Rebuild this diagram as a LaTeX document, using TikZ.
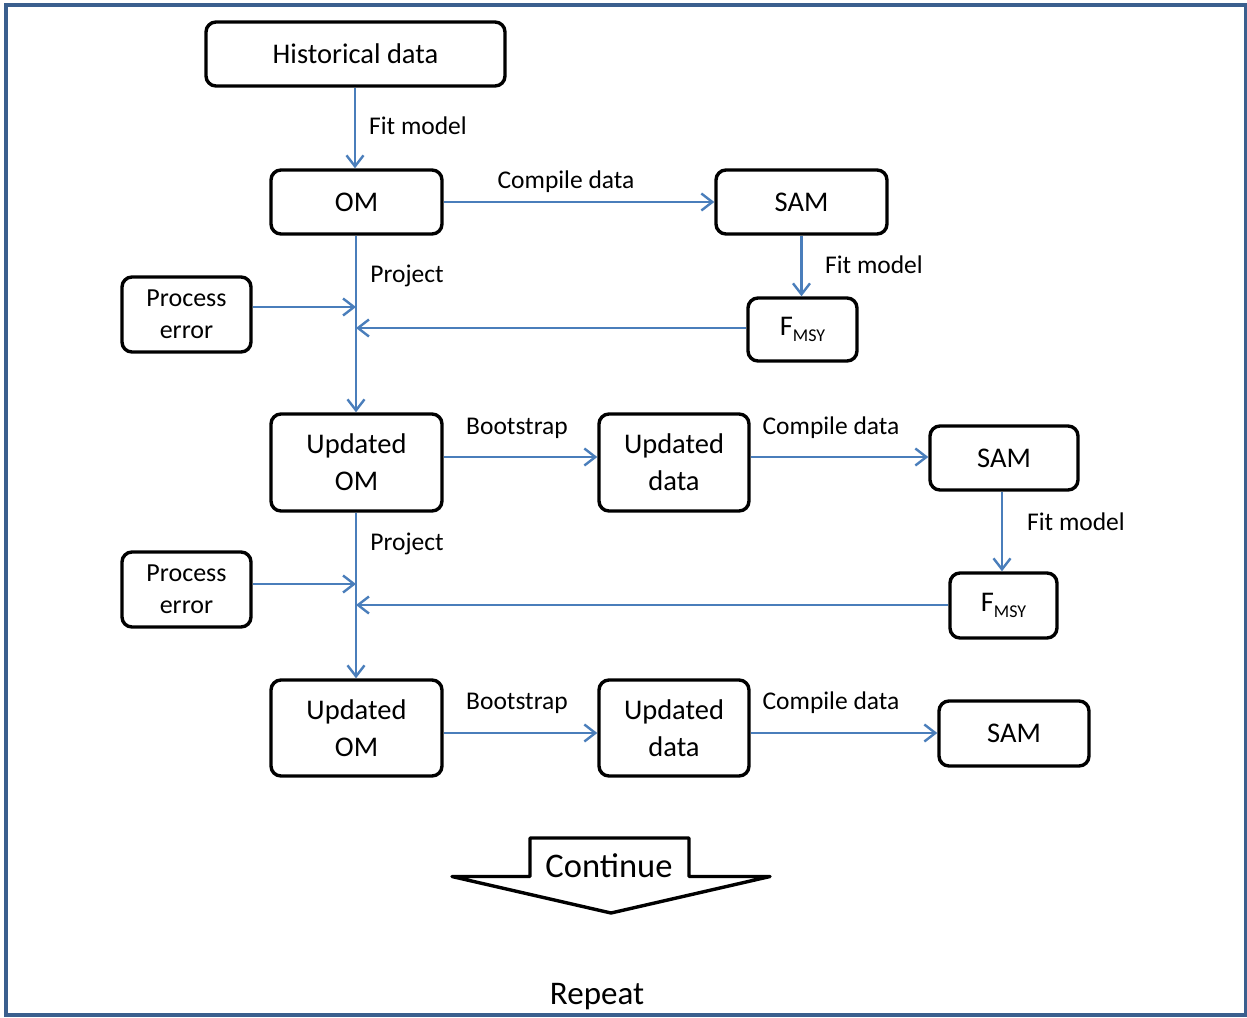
\documentclass[tikz,border=0pt]{standalone}
\usepackage{fontspec}
\setmainfont{Carlito}
\usetikzlibrary{arrows.meta}
\definecolor{conblue}{HTML}{4A7EBB}
\definecolor{framec}{HTML}{3A5F8E}
\tikzset{
  box/.style={draw=black, line width=3.4pt, rounded corners=10pt, inner sep=0pt, align=center, font=\fontsize{28.5}{37}\selectfont},
  pebox/.style={box, font=\fontsize{26}{32}\selectfont},
  conn/.style={draw=conblue, line width=2.4pt, -{Straight Barb[length=11pt,width=17pt,line width=2.4pt]}},
  lbl/.style={anchor=base, inner sep=0pt, font=\fontsize{25.5}{30}\selectfont}
}
\begin{document}
\begin{tikzpicture}[x=1pt,y=-1pt]
\useasboundingbox (0,0) rectangle (1247,1017);
\draw[framec, line width=3.6pt] (6,5) rectangle (1245.5,1015);

\node[box, minimum width=299pt, minimum height=64pt] (hist) at (355.5,54) {Historical data};
\node[box, minimum width=171pt, minimum height=64pt] (om) at (356.5,202) {OM};
\node[box, minimum width=171pt, minimum height=64pt] (sam1) at (801.5,202) {SAM};
\node[box, minimum width=109pt, minimum height=63pt] (f1) at (802.5,329.5) {F\raisebox{-6pt}{\fontsize{18}{20}\selectfont MSY}};
\node[pebox, minimum width=129pt, minimum height=75pt] (pe1) at (186.5,314.5) {Process\\error};
\node[box, minimum width=171pt, minimum height=97pt] (uom1) at (356.5,462.5) {Updated\\OM};
\node[box, minimum width=150pt, minimum height=97pt] (ud1) at (674,462.5) {Updated\\data};
\node[box, minimum width=148pt, minimum height=64pt] (sam2) at (1004,458) {SAM};
\node[box, minimum width=107pt, minimum height=65pt] (f2) at (1003.5,605.5) {F\raisebox{-6pt}{\fontsize{18}{20}\selectfont MSY}};
\node[pebox, minimum width=129pt, minimum height=75pt] (pe2) at (186.5,589.5) {Process\\error};
\node[box, minimum width=171pt, minimum height=96pt] (uom2) at (356.5,728) {Updated\\OM};
\node[box, minimum width=150pt, minimum height=96pt] (ud2) at (674,728) {Updated\\data};
\node[box, minimum width=150pt, minimum height=65pt] (sam3) at (1014,733.5) {SAM};

% junction coordinates on the vertical lines
\coordinate (j1a) at (356,307);
\coordinate (j1b) at (356,328);
\coordinate (j2a) at (356,584);
\coordinate (j2b) at (356,605);

\draw[conn] (hist.south -| 355,0) -- (om.north -| 355,0);
\draw[conn] (om.east) -- (sam1.west);
\draw[conn] (sam1.south) -- (f1.north -| sam1.south);
\draw[conn] (om.south -| j1a) -- (uom1.north -| j1a);
\draw[conn] (pe1.east |- j1a) -- (j1a);
\draw[conn] (f1.west |- j1b) -- (j1b);

\draw[conn] (uom1.east |- 0,457) -- (ud1.west |- 0,457);
\draw[conn] (ud1.east |- 0,457) -- (sam2.west |- 0,457);
\draw[conn] (sam2.south -| 1002,0) -- (f2.north -| 1002,0);
\draw[conn] (uom1.south -| j2a) -- (uom2.north -| j2a);
\draw[conn] (pe2.east |- j2a) -- (j2a);
\draw[conn] (f2.west |- j2b) -- (j2b);

\draw[conn] (uom2.east |- 0,733) -- (ud2.west |- 0,733);
\draw[conn] (ud2.east |- 0,733) -- (sam3.west |- 0,733);

\node[lbl] (l1) at (418,134) {Fit model};
\node[lbl] (l2) at (566,188) {Compile data};
\node[lbl] (l3) at (874,273) {Fit model};
\node[lbl] (l4) at (407,282) {Project};
\node[lbl] (l5) at (517,434) {Bootstrap};
\node[lbl] (l6) at (831,434) {Compile data};
\node[lbl] (l7) at (1076,530) {Fit model};
\node[lbl] (l8) at (407,550) {Project};
\node[lbl] (l9) at (517,709) {Bootstrap};
\node[lbl] (l10) at (831,709) {Compile data};

\draw[line width=3.4pt, line join=round] (452,876.5) -- (530,876.5) -- (530,838) -- (689,838) -- (689,876.5) -- (770,876.5) -- (611,913) -- cycle;
\node[anchor=base, inner sep=0pt, font=\fontsize{34.5}{40}\selectfont] (cont) at (609,877) {Continue};
\node[anchor=base, inner sep=0pt, font=\fontsize{33}{40}\selectfont] (rep) at (597,1004) {Repeat};
\end{tikzpicture}
\end{document}
